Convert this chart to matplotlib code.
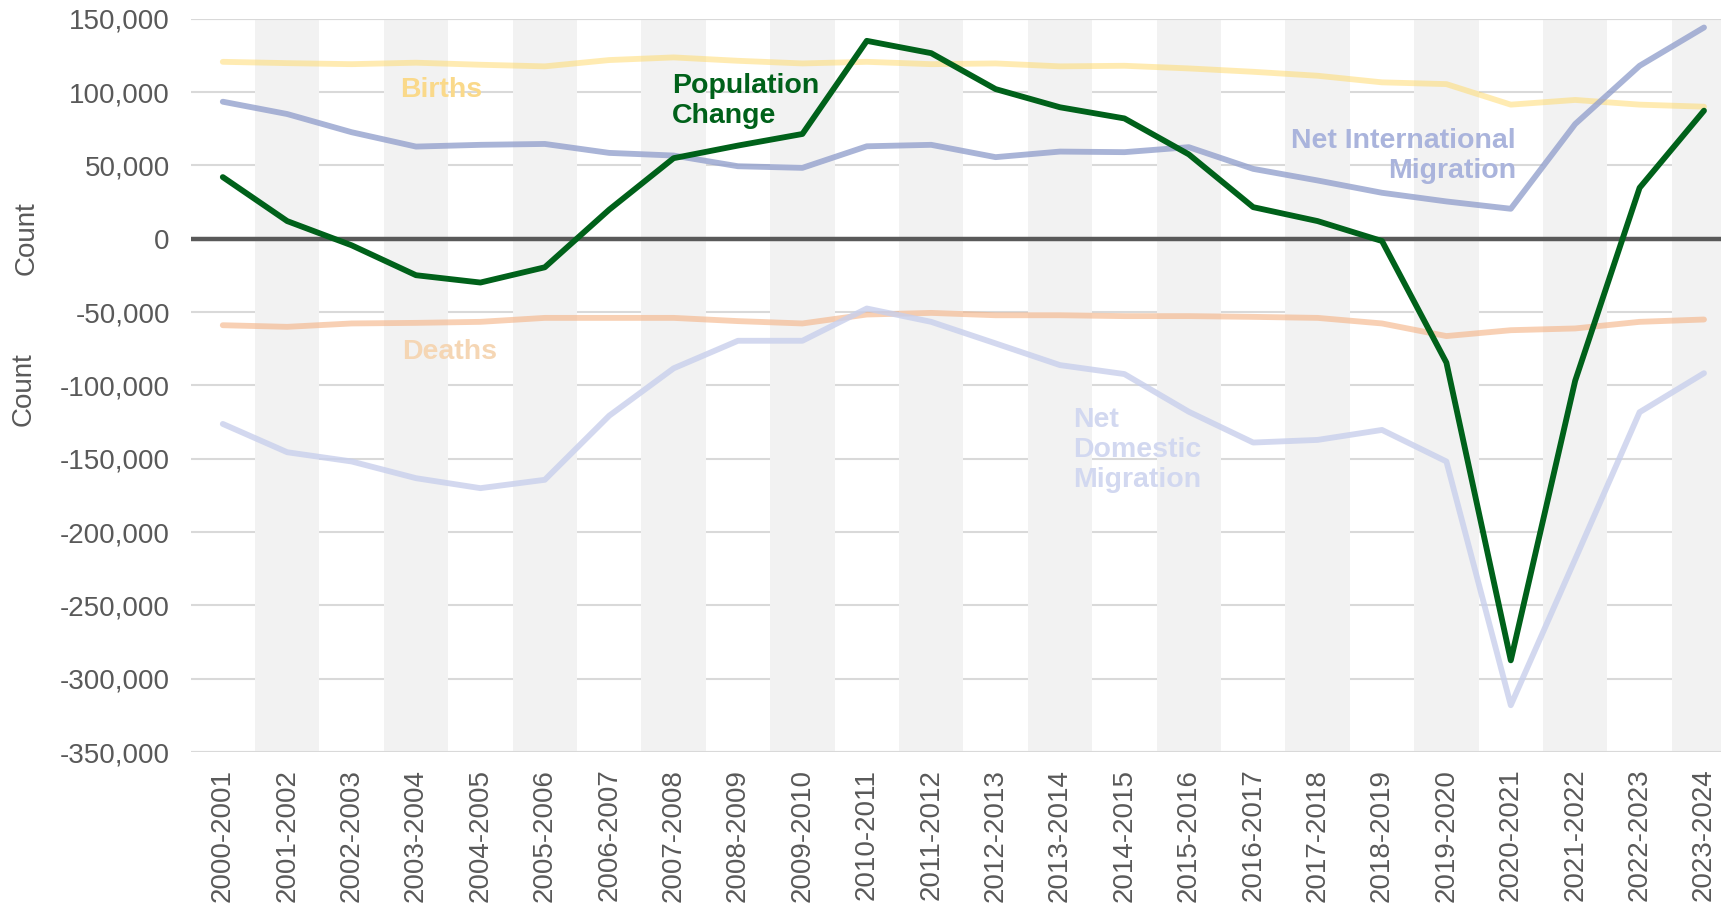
import matplotlib.pyplot as plt
import numpy as np
from matplotlib.ticker import FuncFormatter

plt.rcParams['font.family'] = ['Liberation Sans', 'DejaVu Sans']

years = ['2000-2001', '2001-2002', '2002-2003', '2003-2004', '2004-2005', '2005-2006',
         '2006-2007', '2007-2008', '2008-2009', '2009-2010', '2010-2011', '2011-2012',
         '2012-2013', '2013-2014', '2014-2015', '2015-2016', '2016-2017', '2017-2018',
         '2018-2019', '2019-2020', '2020-2021', '2021-2022', '2022-2023', '2023-2024']

pop_change = [42000, 12000, -4500, -24900, -29900, -19500, 19800, 54900, 63500, 71400,
              134900, 126500, 102000, 89600, 82000, 57500, 21500, 12000, -1600, -84500,
              -287500, -96800, 34700, 87300]
births = [120600, 119700, 119000, 120000, 118600, 117500, 121800, 123600, 121300, 119500,
          120600, 119000, 119500, 117500, 117900, 116100, 113800, 111100, 106600, 105400,
          91400, 94600, 91400, 90000]
deaths = [-59000, -60100, -57800, -57400, -56700, -54000, -54000, -54000, -56200, -57800,
          -51700, -50600, -52200, -52200, -52800, -52800, -53300, -54000, -57800, -66400,
          -62400, -61200, -56700, -55100]
net_intl = [93400, 85000, 72600, 62800, 64000, 64600, 58500, 56700, 49400, 48300,
            63000, 64000, 55600, 59400, 59000, 62400, 47600, 39700, 31300, 25400,
            20400, 78200, 117900, 144000]
net_dom = [-126300, -145600, -151900, -163300, -170100, -164400, -120700, -88400, -69600, -69600,
           -47600, -56700, -71400, -86200, -92300, -118000, -139000, -137200, -130400, -151900,
           -318100, -218500, -118300, -91700]

x = np.arange(len(years))
grey = '#595959'

fig = plt.figure(figsize=(17.21, 9.14), dpi=100)
ax = fig.add_axes([190.6 / 1721, 1 - 752 / 914, 1 - 190.6 / 1721, (752 - 18.7) / 914])

# alternating column bands (above the grid)
for i in x:
    if i % 2 == 1:
        ax.axvspan(i - 0.5, i + 0.5, color='#f2f2f2', lw=0, zorder=1)

for v in range(-350000, 150001, 50000):
    ax.axhline(v, color='#d9d9d9', lw=1.5, zorder=0.5)
ax.axhline(150000, color='#d9d9d9', lw=1.5, zorder=2)
ax.axhline(-350000, color='#d9d9d9', lw=1.5, zorder=2)
ax.axhline(0, color=grey, lw=3.2, zorder=3)

lw = 4.2
ax.plot(x, births, color='#FFD966', alpha=0.5, lw=lw, zorder=4, solid_capstyle='round')
ax.plot(x, deaths, color='#F4B183', alpha=0.6, lw=lw, zorder=4, solid_capstyle='round')
ax.plot(x, net_intl, color='#94A1CD', alpha=0.8, lw=lw, zorder=4, solid_capstyle='round')
ax.plot(x, net_dom, color='#C8CFEC', alpha=0.8, lw=lw, zorder=4, solid_capstyle='round')
ax.plot(x, pop_change, color='#00611a', lw=lw, zorder=5, solid_capstyle='round')

lab = dict(fontsize=20.5, fontweight='bold', zorder=6)
ax.text(3.39, 101200, 'Births', color='#FAD98A', ha='center', va='center', **lab)
ax.text(3.52, -77200, 'Deaths', color='#F5D6B4', ha='center', va='center', **lab)
ax.text(6.975, 93700, 'Population\nChange', color='#00611a', ha='left', va='center',
        multialignment='left', **lab)
ax.text(20.08, 56400, 'Net International\nMigration', color='#AAB4DC', ha='right',
        va='center', multialignment='right', **lab)
ax.text(13.21, -144000, 'Net\nDomestic\nMigration', color='#D2D8F0', ha='left',
        va='center', multialignment='left', **lab)

ax.set_xlim(-0.5, -0.5 + (1721 - 190.6) / 64.4)
ax.set_ylim(-350000, 150000)
ax.set_yticks(range(-350000, 150001, 50000))
ax.yaxis.set_major_formatter(FuncFormatter(lambda v, p: f'{int(v):,}'))
ax.set_xticks(x)
ax.set_xticklabels(years, rotation=90)
ax.tick_params(axis='y', length=0, pad=15, labelsize=20, labelcolor=grey)
ax.tick_params(axis='x', length=0, pad=12, labelsize=20, labelcolor=grey)
for s in ax.spines.values():
    s.set_visible(False)

fig.text(27 / 1721, 1 - 238 / 914, 'Count', rotation=90, ha='center', va='center',
         fontsize=20, color=grey)
fig.text(24 / 1721, 1 - 389 / 914, 'Count', rotation=90, ha='center', va='center',
         fontsize=20, color=grey)

fig.savefig('out.png', dpi=100)
